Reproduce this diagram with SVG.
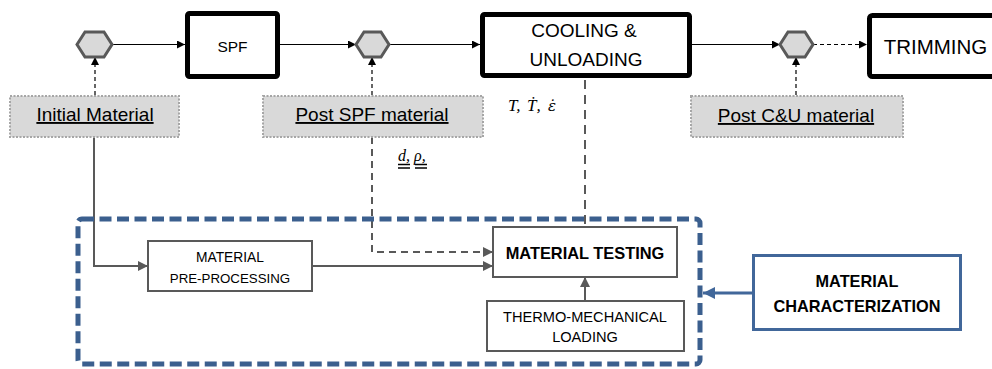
<svg xmlns="http://www.w3.org/2000/svg" width="992" height="369" viewBox="0 0 992 369">
<defs>
<style>
.t{font-family:"Liberation Sans",Arial,sans-serif;fill:#000;text-anchor:middle}
.b{font-weight:bold}
.hex{fill:#d9d9d9;stroke:#595959;stroke-width:3}
.main{fill:#fff;stroke:#000;stroke-width:5}
.gbox{fill:#d9d9d9;stroke:#a6a6a6;stroke-width:2;stroke-dasharray:2 1.5}
.sub{fill:#fff;stroke:#595959;stroke-width:2}
.blk{fill:none;stroke:#000;stroke-width:1.2}
.gry{fill:none;stroke:#595959;stroke-width:2}
.m{font-family:"Liberation Serif","Times New Roman",serif;font-style:italic;fill:#000}
</style>
<marker id="ab" viewBox="0 0 10 10" refX="10" refY="5" markerWidth="8" markerHeight="8" markerUnits="userSpaceOnUse" orient="auto"><path d="M0,0 L10,5 L0,10 z" fill="#000"/></marker>
<marker id="ag" viewBox="0 0 10 10" refX="10" refY="5" markerWidth="10" markerHeight="10" markerUnits="userSpaceOnUse" orient="auto"><path d="M0,0 L10,5 L0,10 z" fill="#595959"/></marker>
<marker id="au" viewBox="0 0 10 10" refX="10" refY="5" markerWidth="12" markerHeight="12" markerUnits="userSpaceOnUse" orient="auto"><path d="M0,0 L10,5 L0,10 z" fill="#41679a"/></marker>
</defs>
<rect width="992" height="369" fill="#fff"/>

<g id="connectors">
<line class="blk" x1="112" y1="44.5" x2="185" y2="44.5" marker-end="url(#ab)"/>
<line class="blk" x1="280" y1="44.5" x2="356" y2="44.5" marker-end="url(#ab)"/>
<line class="blk" x1="389" y1="44.5" x2="480" y2="44.5" marker-end="url(#ab)"/>
<line class="blk" x1="692" y1="44.5" x2="780" y2="44.5" marker-end="url(#ab)"/>
<line class="blk" x1="813" y1="44.5" x2="867" y2="44.5" stroke-dasharray="4 3" marker-end="url(#ab)"/>
<line class="blk" x1="95" y1="95" x2="95" y2="57" stroke-dasharray="4 3" marker-end="url(#ab)"/>
<line class="blk" x1="372" y1="95" x2="372" y2="57" stroke-dasharray="4 3" marker-end="url(#ab)"/>
<line class="blk" x1="796" y1="95" x2="796" y2="57" stroke-dasharray="4 3" marker-end="url(#ab)"/>
<polyline class="gry" points="94,137 94,266 148,266" marker-end="url(#ag)"/>
<line class="gry" x1="312" y1="266" x2="493" y2="266" marker-end="url(#ag)"/>
<polyline class="gry" points="372,137 372,252 493,252" stroke-dasharray="7 5" marker-end="url(#ag)"/>
<line class="gry" x1="585" y1="80" x2="585" y2="227" stroke-dasharray="9 6"/>
<line class="gry" x1="585" y1="301" x2="585" y2="277" marker-end="url(#ag)"/>
<line x1="752" y1="293" x2="703" y2="293" stroke="#41679a" stroke-width="3" marker-end="url(#au)"/>
</g>

<g id="hex1"><polygon class="hex" points="77,44.5 85,32 104,32 112,44.5 104,57 85,57"/></g>
<g id="hex2"><polygon class="hex" points="356,44.5 364,32 381,32 389,44.5 381,57 364,57"/></g>
<g id="hex3"><polygon class="hex" points="780,44.5 788,32 805,32 813,44.5 805,57 788,57"/></g>

<g id="spf"><rect class="main" x="187.5" y="13.5" width="90" height="63" rx="2"/><text class="t" x="232.5" y="52" font-size="15.5">SPF</text></g>
<g id="cooling"><rect class="main" x="482.5" y="14.5" width="207" height="61" rx="2"/><text class="t" x="584" y="37" font-size="19">COOLING &amp;</text><text class="t" x="586" y="66" font-size="19">UNLOADING</text></g>
<g id="trimming"><rect class="main" x="869.5" y="15.5" width="140" height="61" rx="3"/><text class="t" x="935.5" y="54" font-size="20.5">TRIMMING</text></g>

<g id="initial"><rect class="gbox" x="10" y="96" width="169" height="41"/><text class="t" x="95" y="121" font-size="19" text-decoration="underline">Initial Material</text></g>
<g id="postspf"><rect class="gbox" x="263" y="96" width="220" height="41"/><text class="t" x="372" y="121" font-size="19" text-decoration="underline">Post SPF material</text></g>
<g id="postcu"><rect class="gbox" x="691" y="96" width="212" height="41"/><text class="t" x="796" y="122" font-size="19" text-decoration="underline">Post C&amp;U material</text></g>

<g id="params1"><text class="m" y="111" font-size="17"><tspan x="508">T,</tspan><tspan x="527">Ṫ,</tspan><tspan x="548" font-family="'DejaVu Serif',serif" font-size="15">ε̇</tspan></text></g>
<g id="params2"><text class="m" x="398" y="161" font-size="16">d, ρ,</text>
<path d="M398,164.5 H410 M398,168 H410 M415,164.5 H427 M415,168 H427" stroke="#000" stroke-width="1.5"/></g>

<g id="charzone"><rect x="78" y="219" width="622" height="145" rx="4" fill="none" stroke="#3b5f8e" stroke-width="5" stroke-dasharray="12 5.5"/></g>
<g id="preproc"><rect class="sub" x="148" y="241" width="164" height="50"/><text class="t" x="230" y="262" font-size="13.8">MATERIAL</text><text class="t" x="230" y="283" font-size="13.3">PRE-PROCESSING</text></g>
<g id="testing"><rect class="sub" x="493" y="227" width="184" height="50"/><text class="t b" x="585" y="259" font-size="16.4">MATERIAL TESTING</text></g>
<g id="thermo"><rect class="sub" x="487" y="301" width="197" height="50"/><text class="t" x="585" y="322" font-size="14.6">THERMO-MECHANICAL</text><text class="t" x="585" y="342" font-size="14.6">LOADING</text></g>
<g id="charac"><rect x="753.5" y="255.5" width="207" height="74" fill="#fff" stroke="#41679a" stroke-width="3"/><text class="t b" x="857" y="287" font-size="16.3">MATERIAL</text><text class="t b" x="857" y="312" font-size="16.3">CHARACTERIZATION</text></g>
</svg>
